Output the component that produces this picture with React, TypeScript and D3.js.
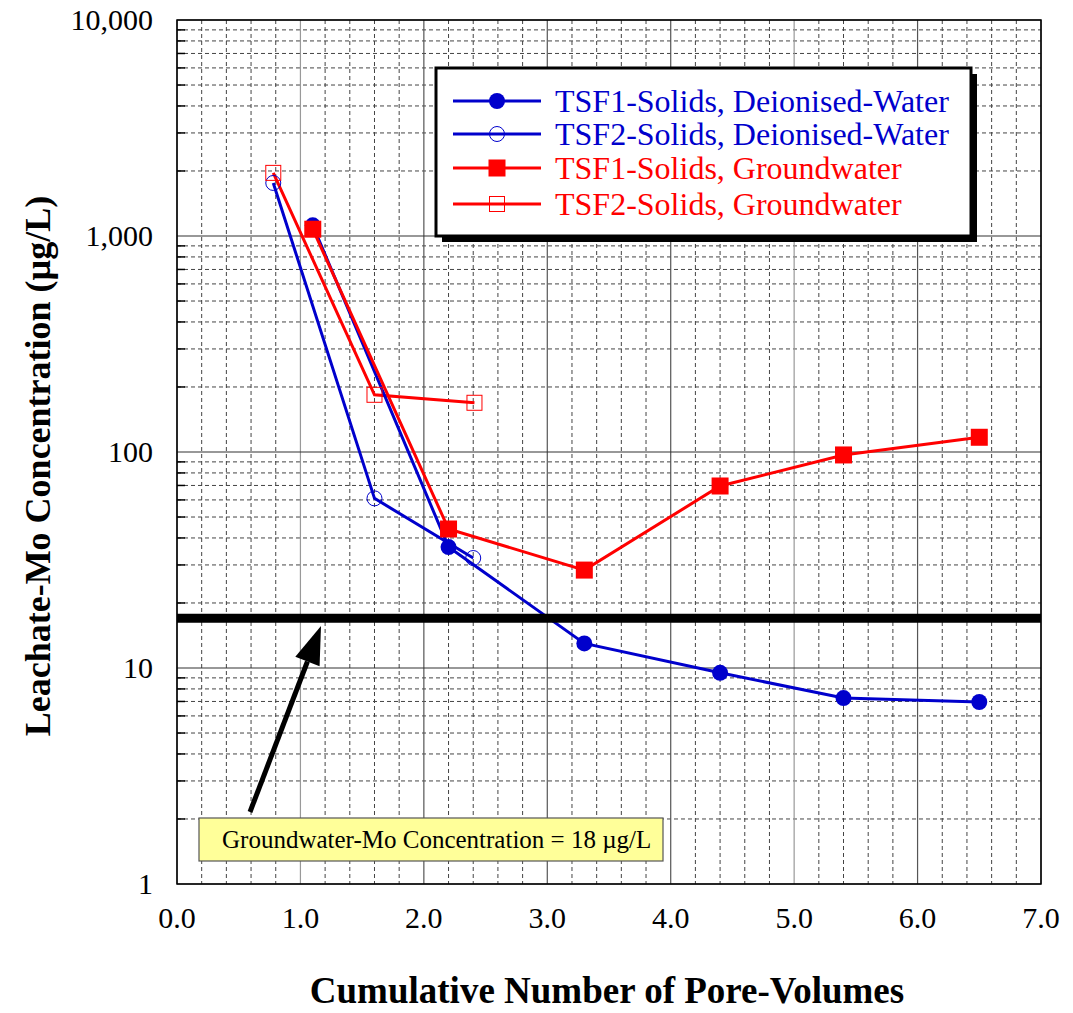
import React from "react";
import * as d3 from "d3";

const tsf1DiX = [1.1, 2.2, 3.3, 4.4, 5.4, 6.5];
const tsf1DiY = [1120, 36.3, 13, 9.5, 7.26, 6.96];
const tsf2DiX = [0.78, 1.6, 2.4];
const tsf2DiY = [1760, 61, 32.3];
const tsf1GwX = [1.1, 2.2, 3.3, 4.4, 5.4, 6.5];
const tsf1GwY = [1075, 44, 28.4, 69.6, 96.9, 117];
const tsf2GwX = [0.78, 1.6, 2.41];
const tsf2GwY = [1960, 184, 169];
const groundwaterLevel = [17];
const xTicks = [0, 1, 2, 3, 4, 5, 6, 7];
const yTicks = [1, 10, 100, 1000, 10000];
const legendLabels = [
  "TSF1-Solids, Deionised-Water",
  "TSF2-Solids, Deionised-Water",
  "TSF1-Solids, Groundwater",
  "TSF2-Solids, Groundwater",
];
const annotationText = "Groundwater-Mo Concentration = 18 µg/L";
const xTitle = "Cumulative Number of Pore-Volumes";
const yTitle = "Leachate-Mo Concentration (µg/L)";

const BLUE = "#0000CC";
const RED = "#FF0000";
const FONT = "'Liberation Serif', 'Times New Roman', serif";

export default function App() {
  const L = 177, R = 1041, T = 20, B = 884;
  const x = d3.scaleLinear().domain([0, 7]).range([L, R]);
  const y = d3.scaleLog().domain([1, 10000]).range([B, T]);
  const line = d3.line<[number, number]>().x((d) => x(d[0])).y((d) => y(d[1]));
  const zip = (xs: number[], ys: number[]) => xs.map((v, i) => [v, ys[i]] as [number, number]);

  const minorX = d3.range(0, 7.001, 0.2).filter((v) => Math.abs(v - Math.round(v)) > 1e-6);
  const minorY: number[] = [];
  for (let dec = 1; dec < 10000; dec *= 10) for (let k = 2; k <= 9; k++) minorY.push(dec * k);

  const fmtY = d3.format(",");

  const series = [
    { xs: tsf1DiX, ys: tsf1DiY, color: BLUE, marker: "circle", filled: true },
    { xs: tsf2DiX, ys: tsf2DiY, color: BLUE, marker: "circle", filled: false },
    { xs: tsf1GwX, ys: tsf1GwY, color: RED, marker: "square", filled: true },
    { xs: tsf2GwX, ys: tsf2GwY, color: RED, marker: "square", filled: false },
  ];
  const drawOrder = [1, 3, 0, 2];

  const marker = (s: any, cx: number, cy: number, key: any) => {
    if (s.marker === "circle") {
      return s.filled ? (
        <circle key={key} cx={cx} cy={cy} r={8} fill={s.color} />
      ) : (
        <circle key={key} cx={cx} cy={cy} r={7.5} fill="none" stroke={s.color} strokeWidth={1} />
      );
    }
    return s.filled ? (
      <rect key={key} x={cx - 8.5} y={cy - 8.5} width={17} height={17} fill={s.color} />
    ) : (
      <rect key={key} x={cx - 7.5} y={cy - 7.5} width={15} height={15} fill="none" stroke={s.color} strokeWidth={1} />
    );
  };

  const gwY = y(groundwaterLevel[0]);
  const lgX = 436, lgY = 68, lgW = 535, lgH = 168;
  const rowY = [101, 134, 168, 204];

  const ax0 = 250, ay0 = 812, ax1 = 321, ay1 = 626;
  const ang = Math.atan2(ay1 - ay0, ax1 - ax0);
  const headLen = 38, headW = 13;
  const bx = ax1 - headLen * Math.cos(ang), by = ay1 - headLen * Math.sin(ang);
  const px = -Math.sin(ang), py = Math.cos(ang);

  return (
    <svg width={1073} height={1013} style={{ position: "absolute", left: 0, top: 0 }} fontFamily={FONT}>
      <rect x={0} y={0} width={1073} height={1013} fill="#fff" />
      {minorX.map((v) => (
        <line key={"mx" + v} x1={x(v)} x2={x(v)} y1={T} y2={B} stroke="#444" strokeWidth={1} strokeDasharray="4,3" />
      ))}
      {minorY.map((v) => (
        <line key={"my" + v} x1={L} x2={R} y1={y(v)} y2={y(v)} stroke="#444" strokeWidth={1} strokeDasharray="4,3" />
      ))}
      {xTicks.map((v) => (
        <line key={"Mx" + v} x1={x(v)} x2={x(v)} y1={T} y2={B} stroke={v === 1 || v === 5 ? "#999" : "#555"} strokeWidth={1.2} />
      ))}
      {yTicks.map((v) => (
        <line key={"My" + v} x1={L} x2={R} y1={y(v)} y2={y(v)} stroke="#333" strokeWidth={1.2} />
      ))}
      {minorY.map((v) => (
        <line key={"tk" + v} x1={L} x2={L + 8} y1={y(v)} y2={y(v)} stroke="#000" strokeWidth={1.5} />
      ))}
      <rect x={L} y={T} width={R - L} height={B - T} fill="none" stroke="#000" strokeWidth={1.5} />

      {drawOrder.map((i) => {
        const s = series[i];
        return (
          <path key={"l" + i} d={line(zip(s.xs, s.ys)) || ""} fill="none" stroke={s.color} strokeWidth={3} />
        );
      })}
      {drawOrder.map((i) => {
        const s = series[i];
        return <g key={"m" + i}>{zip(s.xs, s.ys).map((d, j) => marker(s, x(d[0]), y(d[1]), j))}</g>;
      })}

      <line x1={L} x2={R} y1={gwY} y2={gwY} stroke="#000" strokeWidth={9} />

      <line x1={ax0} y1={ay0} x2={bx} y2={by} stroke="#000" strokeWidth={5} />
      <polygon
        points={`${ax1},${ay1} ${bx + px * headW},${by + py * headW} ${bx - px * headW},${by - py * headW}`}
        fill="#000"
      />

      <rect x={199} y={818} width={464} height={43} fill="#FFFF99" stroke="#555" strokeWidth={1.2} />
      <text x={222} y={848} fontSize={25} fill="#000">{annotationText}</text>

      <rect x={lgX + 6} y={lgY + 6} width={lgW} height={lgH} fill="#000" />
      <rect x={lgX} y={lgY} width={lgW} height={lgH} fill="#fff" stroke="#000" strokeWidth={3} />
      {series.map((s, i) => (
        <g key={"lg" + i}>
          <line x1={453} x2={541} y1={rowY[i]} y2={rowY[i]} stroke={s.color} strokeWidth={3} />
          {marker(s, 497, rowY[i], "lm" + i)}
          <text x={555} y={rowY[i] + 11} fontSize={32} fill={s.color}>{legendLabels[i]}</text>
        </g>
      ))}

      {yTicks.map((v) => (
        <text key={"yl" + v} x={153} y={y(v) + 10} fontSize={30} textAnchor="end" fill="#000">
          {fmtY(v)}
        </text>
      ))}
      {xTicks.map((v) => (
        <text key={"xl" + v} x={x(v)} y={928} fontSize={30} textAnchor="middle" fill="#000">
          {v.toFixed(1)}
        </text>
      ))}

      <text x={607} y={1003} fontSize={37} fontWeight="bold" textAnchor="middle" fill="#000">
        {xTitle}
      </text>
      <text
        transform={`translate(50, 466) rotate(-90)`}
        fontSize={36}
        fontWeight="bold"
        textAnchor="middle"
        fill="#000"
      >
        {yTitle}
      </text>
    </svg>
  );
}
